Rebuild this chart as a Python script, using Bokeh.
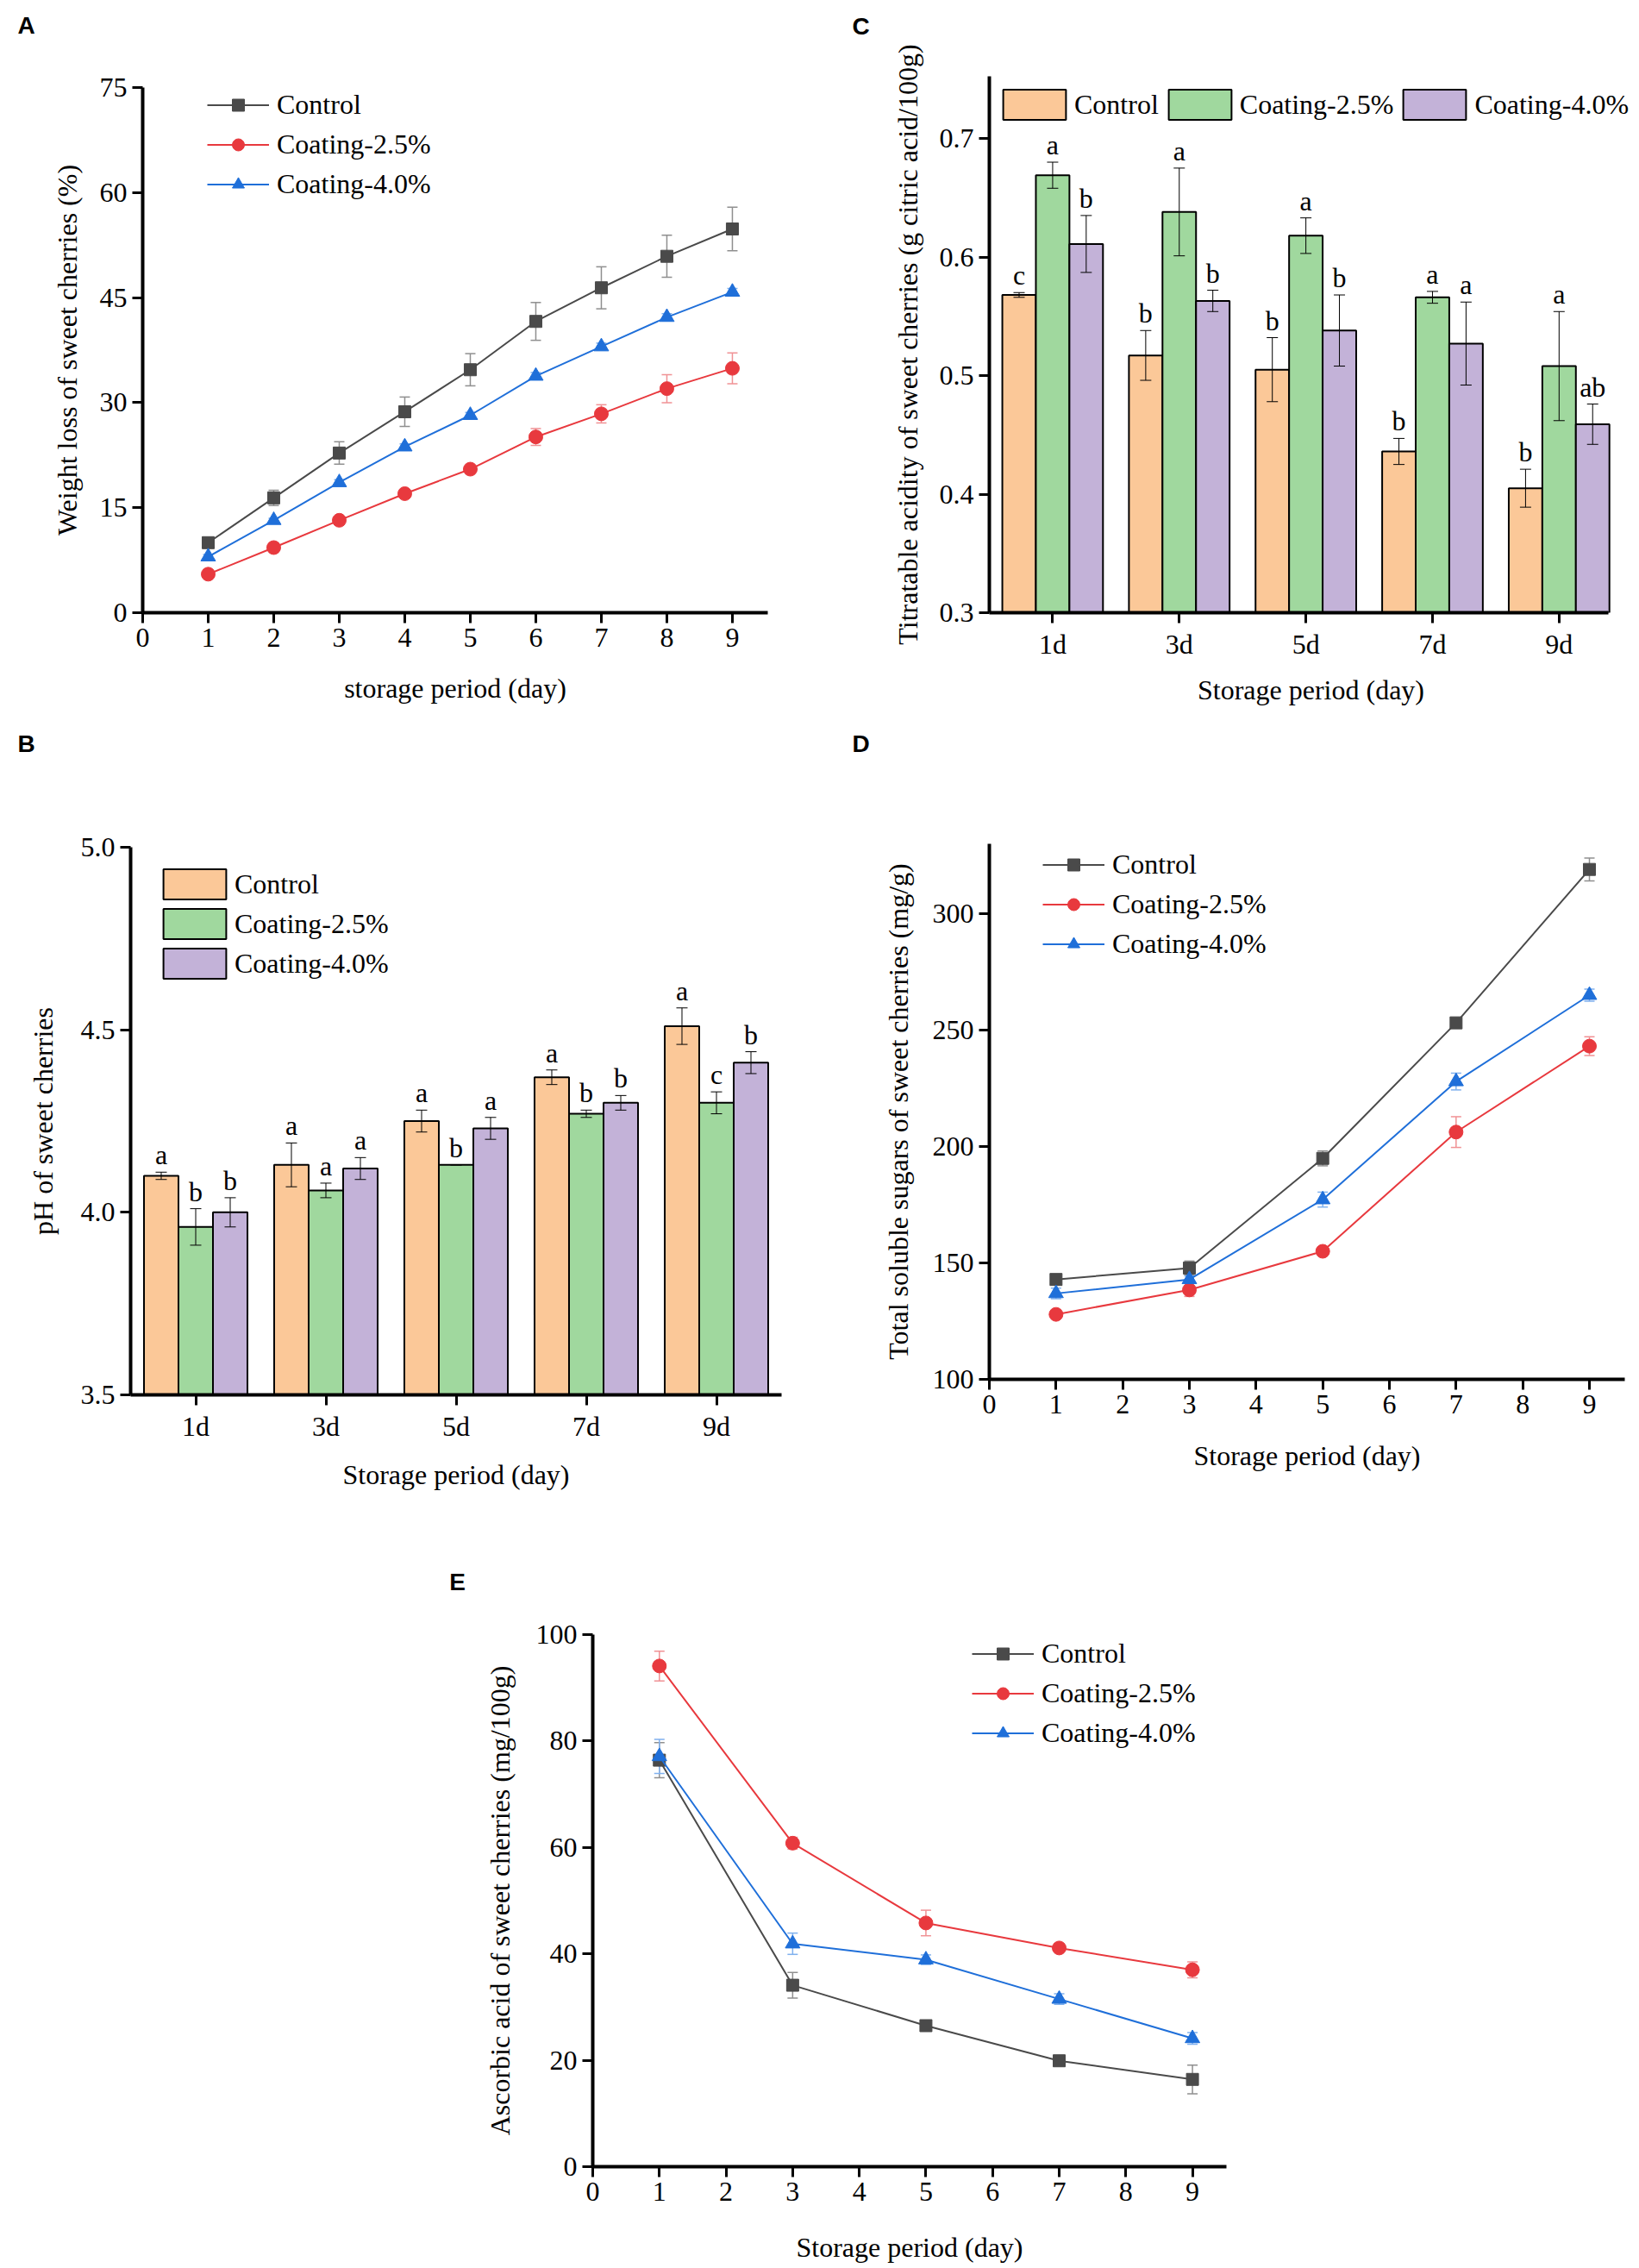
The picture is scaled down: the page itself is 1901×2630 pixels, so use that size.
from bokeh.plotting import figure
from bokeh.layouts import column, row
from bokeh.models import (ColumnDataSource, FixedTicker, Legend, LegendItem, Whisker,
                          TeeHead, Range1d, PrintfTickFormatter, Spacer, Label)
from bokeh.transform import dodge
from bokeh.embed import file_html
from bokeh.resources import INLINE
from bokeh.core.properties import value

SERIF = "Liberation Serif"
SANS = "Liberation Sans"

series_names = ["Control", "Coating-2.5%", "Coating-4.0%"]
line_colors = ["#4a4a4a", "#e8393e", "#1f6fd9"]
err_colors = ["#8f8f8f", "#f09295", "#80b1ee"]
markers = ["square", "circle", "triangle"]
marker_sizes = [14, 16, 17]
bar_colors = ["#fbc898", "#a0d89e", "#c3b2d8"]

# ---------------- Panel A: weight loss ----------------
a_days = [1, 2, 3, 4, 5, 6, 7, 8, 9]
a_control = [10.0, 16.4, 22.8, 28.7, 34.7, 41.6, 46.4, 50.9, 54.8]
a_control_err = [0.5, 1.1, 1.6, 2.1, 2.3, 2.7, 3.0, 3.0, 3.1]
a_c25 = [5.5, 9.3, 13.2, 17.0, 20.5, 25.1, 28.4, 32.0, 34.9]
a_c25_err = [0.3, 0.4, 0.4, 0.5, 0.5, 1.2, 1.3, 2.0, 2.2]
a_c40 = [8.0, 13.2, 18.6, 23.7, 28.2, 33.8, 38.0, 42.2, 45.8]
a_c40_err = [0.3, 0.3, 0.4, 0.4, 0.4, 0.5, 0.5, 0.5, 0.5]
a_xticks = [0, 1, 2, 3, 4, 5, 6, 7, 8, 9]
a_yticks = [0, 15, 30, 45, 60, 75]

# ---------------- Panel B: pH ----------------
bar_days = ["1d", "3d", "5d", "7d", "9d"]
b_control = [4.10, 4.13, 4.25, 4.37, 4.51]
b_control_err = [0.01, 0.06, 0.03, 0.02, 0.05]
b_c25 = [3.96, 4.06, 4.13, 4.27, 4.30]
b_c25_err = [0.05, 0.02, 0.0, 0.01, 0.03]
b_c40 = [4.00, 4.12, 4.23, 4.30, 4.41]
b_c40_err = [0.04, 0.03, 0.03, 0.02, 0.03]
b_letters_control = ["a", "a", "a", "a", "a"]
b_letters_c25 = ["b", "a", "b", "b", "c"]
b_letters_c40 = ["b", "a", "a", "b", "b"]
b_yticks = [3.5, 4.0, 4.5, 5.0]

# ---------------- Panel C: titratable acidity ----------------
c_control = [0.568, 0.517, 0.505, 0.436, 0.405]
c_control_err = [0.002, 0.021, 0.027, 0.011, 0.016]
c_c25 = [0.669, 0.638, 0.618, 0.566, 0.508]
c_c25_err = [0.011, 0.037, 0.015, 0.005, 0.046]
c_c40 = [0.611, 0.563, 0.538, 0.527, 0.459]
c_c40_err = [0.024, 0.009, 0.030, 0.035, 0.017]
c_letters_control = ["c", "b", "b", "b", "b"]
c_letters_c25 = ["a", "a", "a", "a", "a"]
c_letters_c40 = ["b", "b", "b", "a", "ab"]
c_yticks = [0.3, 0.4, 0.5, 0.6, 0.7]

# ---------------- Panel D: total soluble sugars ----------------
de_days = [1, 3, 5, 7, 9]
d_control = [142.9, 147.8, 194.9, 253.1, 319.0]
d_control_err = [1.0, 3.0, 3.2, 1.0, 4.9]
d_c25 = [127.9, 138.4, 155.0, 206.2, 243.1]
d_c25_err = [1.0, 2.8, 1.0, 6.6, 4.0]
d_c40 = [136.9, 142.9, 177.2, 227.9, 265.0]
d_c40_err = [2.3, 1.5, 3.2, 3.6, 2.6]
d_yticks = [100, 150, 200, 250, 300]

# ---------------- Panel E: ascorbic acid ----------------
e_control = [76.4, 34.1, 26.5, 19.9, 16.4]
e_control_err = [3.3, 2.4, 1.0, 0.5, 2.7]
e_c25 = [94.1, 60.8, 45.8, 41.1, 37.0]
e_c25_err = [2.8, 1.1, 2.4, 0.6, 1.5]
e_c40 = [77.1, 41.9, 38.9, 31.5, 24.1]
e_c40_err = [3.2, 2.0, 0.9, 1.0, 1.1]
e_yticks = [0, 20, 40, 60, 80, 100]


def base_figure(w, h, mbl, mbt, mbr, mbb, xr, yr, letter, letter_xy):
    p = figure(width=w, height=h, x_range=Range1d(*xr), y_range=Range1d(*yr),
               output_backend="svg", toolbar_location=None,
               min_border_left=mbl, min_border_top=mbt, min_border_right=mbr,
               min_border_bottom=mbb)
    p.frame_align = False
    p.outline_line_color = None
    p.background_fill_color = "white"
    p.border_fill_color = "white"
    p.grid.visible = False
    p.add_layout(Label(x=letter_xy[0], y=letter_xy[1], x_units="screen", y_units="screen",
                       text=letter, text_font=SANS, text_font_style="bold",
                       text_font_size="28px", text_align="center", text_baseline="middle",
                       text_color="black"), "above")
    return p


def style_axes(p, xlabel, ylabel, x_std, y_std):
    for ax in p.axis:
        ax.axis_line_width = 4
        ax.axis_line_color = "black"
        ax.major_tick_line_width = 3
        ax.major_tick_line_color = "black"
        ax.major_tick_out = 12
        ax.major_tick_in = 0
        ax.minor_tick_line_color = None
        ax.major_label_text_font = SERIF
        ax.major_label_text_font_size = "32px"
        ax.major_label_text_color = "black"
        ax.major_label_standoff = 6
        ax.axis_label_text_font = SERIF
        ax.axis_label_text_font_size = "32px"
        ax.axis_label_text_font_style = "normal"
        ax.axis_label_text_color = "black"
    p.xaxis.axis_label = xlabel
    p.yaxis.axis_label = ylabel
    p.xaxis.axis_label_standoff = x_std
    p.yaxis.axis_label_standoff = y_std


def line_panel(geom, xr, yr, xticks, yticks, days, vals, errs, xlabel, ylabel,
               x_std, y_std, legend_xy, letter, letter_xy):
    p = base_figure(*geom, xr, yr, letter, letter_xy)
    items = []
    for i in range(3):
        lo = [v - e for v, e in zip(vals[i], errs[i])]
        hi = [v + e for v, e in zip(vals[i], errs[i])]
        src = ColumnDataSource(dict(x=days, y=vals[i], lo=lo, hi=hi))
        wh = Whisker(base="x", lower="lo", upper="hi", source=src,
                     line_color=err_colors[i], line_width=1.5,
                     upper_head=TeeHead(size=12, line_color=err_colors[i], line_width=1.5),
                     lower_head=TeeHead(size=12, line_color=err_colors[i], line_width=1.5))
        p.add_layout(wh)
        lr = p.line("x", "y", source=src, line_color=line_colors[i], line_width=2)
        sr = p.scatter("x", "y", source=src, marker=markers[i], size=marker_sizes[i],
                       fill_color=line_colors[i], line_color=line_colors[i])
        items.append(LegendItem(label=series_names[i], renderers=[lr, sr]))
    leg = Legend(items=items, location=legend_xy, orientation="vertical",
                 glyph_width=72, glyph_height=35, label_height=35, spacing=9,
                 label_standoff=9, padding=0, margin=0, border_line_color=None,
                 background_fill_alpha=0, label_text_font=SERIF,
                 label_text_font_size="32px", label_text_color="black")
    p.add_layout(leg)
    p.xaxis.ticker = FixedTicker(ticks=xticks)
    p.yaxis.ticker = FixedTicker(ticks=yticks)
    style_axes(p, xlabel, ylabel, x_std, y_std)
    return p


def bar_panel(geom, xr, x_bounds, yr, yticks, vals, errs, letters, xlabel, ylabel,
              x_std, y_std, legend_xy, orientation, spacing, standoff, letter, letter_xy):
    p = base_figure(*geom, xr, yr, letter, letter_xy)
    xs = list(range(1, len(bar_days) + 1))
    offsets = [-0.265, 0.0, 0.265]
    items = []
    for i in range(3):
        src = ColumnDataSource(dict(x=xs, top=vals[i]))
        r = p.vbar(x=dodge("x", offsets[i]), top="top", bottom=yr[0] - 1, width=0.265,
                   source=src, fill_color=bar_colors[i], line_color="black", line_width=2)
        items.append(LegendItem(label=series_names[i], renderers=[r]))
    for i in range(3):
        bx = [x + offsets[i] for x in xs]
        lo = [v - e for v, e in zip(vals[i], errs[i])]
        hi = [v + e for v, e in zip(vals[i], errs[i])]
        esrc = ColumnDataSource(dict(x=bx, lo=lo, hi=hi, lab=letters[i]))
        wh = Whisker(base="x", lower="lo", upper="hi", source=esrc, level="overlay",
                     line_color="black", line_width=1,
                     upper_head=TeeHead(size=13, line_color="black", line_width=1),
                     lower_head=TeeHead(size=13, line_color="black", line_width=1))
        p.add_layout(wh)
        p.text(x="x", y="hi", text="lab", source=esrc, text_font=value(SERIF),
               text_font_size="32px", text_align="center", text_baseline="alphabetic",
               y_offset=-20, text_color="black")
    leg = Legend(items=items, location=legend_xy, orientation=orientation,
                 glyph_width=91, glyph_height=44, label_height=44, spacing=spacing,
                 label_standoff=standoff, padding=0, margin=0, border_line_color=None,
                 background_fill_alpha=0, label_text_font=SERIF,
                 label_text_font_size="32px", label_text_color="black")
    p.add_layout(leg)
    p.xaxis.ticker = FixedTicker(ticks=xs)
    p.xaxis.major_label_overrides = {x: lab for x, lab in zip(xs, bar_days)}
    p.xaxis.bounds = x_bounds
    p.yaxis.ticker = FixedTicker(ticks=yticks)
    p.yaxis.formatter = PrintfTickFormatter(format="%.1f")
    style_axes(p, xlabel, ylabel, x_std, y_std)
    return p


pA = line_panel((950, 830, 165, 101, 60, 120), (0, 9.54), (0, 75), a_xticks, a_yticks,
                a_days, [a_control, a_c25, a_c40], [a_control_err, a_c25_err, a_c40_err],
                "storage period (day)", "Weight loss of sweet cherries (%)", 27, 17,
                (75, 478), "A", (-135, 72))

pC = bar_panel((943, 830, 197, 88, 0, 120), (0.5, 5.58), (0.5, 5.39), (0.3, 0.7524), c_yticks,
               [c_control, c_c25, c_c40], [c_control_err, c_c25_err, c_c40_err],
               [c_letters_control, c_letters_c25, c_letters_c40],
               "Storage period (day)", "Titratable acidity of sweet cherries (g citric acid/100g)",
               14, 16, (7, 567), "horizontal", 2, 1, "C", (-149, 58))

pB = bar_panel((950, 930, 151, 152, 44, 143), (0.5, 5.5), (0.5, 5.5), (3.5, 5.0), b_yticks,
               [b_control, b_c25, b_c40], [b_control_err, b_c25_err, b_c40_err],
               [b_letters_control, b_letters_c25, b_letters_c40],
               "Storage period (day)", "pH of sweet cherries",
               17, 23, (29, 478), "vertical", 2, 1, "B", (-121, 120))

pD = line_panel((943, 930, 197, 148, 9, 161), (0, 9.53), (100, 330), a_xticks, d_yticks,
                de_days, [d_control, d_c25, d_c40], [d_control_err, d_c25_err, d_c40_err],
                "Storage period (day)", "Total soluble sugars of sweet cherries (mg/g)", 28, 19,
                (62, 486), "D", (-149, 116))

pE = line_panel((1076, 866, 237, 135, 104, 110), (0, 9.51), (0, 100), a_xticks, e_yticks,
                de_days, [e_control, e_c25, e_c40], [e_control_err, e_c25_err, e_c40_err],
                "Storage period (day)", "Ascorbic acid of sweet cherries (mg/100g)", 33, 21,
                (440, 484), "E", (-157, 61))

layout = column(row(pA, pC), row(pB, pD), row(Spacer(width=450, height=866), pE))

open("out.html", "w").write(file_html(layout, INLINE))
